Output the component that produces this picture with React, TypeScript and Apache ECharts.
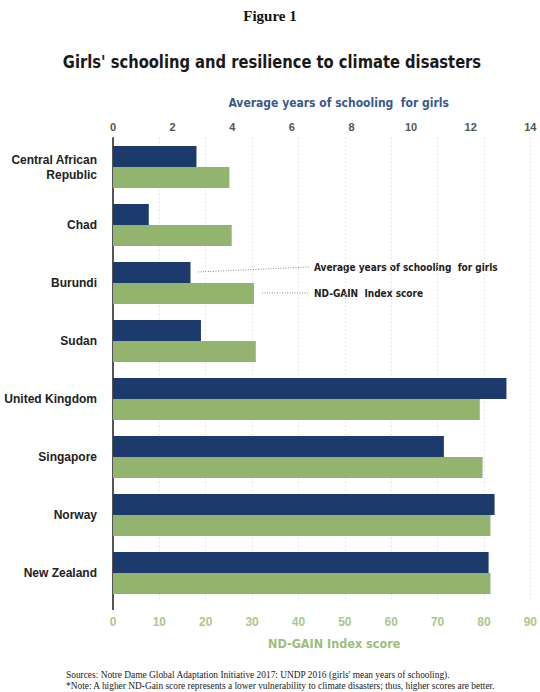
import React, { useEffect, useRef } from "react";
import * as echarts from "echarts";

const categories = [
  "Central African\nRepublic",
  "Chad",
  "Burundi",
  "Sudan",
  "United Kingdom",
  "Singapore",
  "Norway",
  "New Zealand",
];
const schoolingYears = [2.8, 1.2, 2.6, 2.95, 13.2, 11.1, 12.8, 12.6];
const ndGainScore = [25.1, 25.6, 30.4, 30.8, 79.1, 79.7, 81.4, 81.4];
const yearsTicks = { min: 0, max: 14, interval: 2 };
const scoreTicks = { min: 0, max: 90, interval: 10 };

const NARROW = "'Liberation Sans Narrow', 'DejaVu Sans Condensed', 'Liberation Sans', sans-serif";
const SANS = "'Liberation Sans', Arial, sans-serif";
const SERIF = "'Liberation Serif', 'Times New Roman', serif";
const NAVY = "#1c3a6b";
const GREEN = "#92b46f";

export default function App() {
  const ref = useRef<HTMLDivElement>(null);
  useEffect(() => {
    if (!ref.current) return;
    const chart = echarts.init(ref.current, undefined, { renderer: "svg" });
    chart.setOption({
      animation: false,
      backgroundColor: "#ffffff",
      grid: { left: 113, right: 6, top: 138, bottom: 90 },
      xAxis: [
        {
          type: "value",
          position: "top",
          min: yearsTicks.min,
          max: yearsTicks.max,
          interval: yearsTicks.interval,
          name: "Average years of schooling  for girls",
          nameLocation: "middle",
          nameGap: 29,
          nameTextStyle: {
            color: "#3b5a8c",
            fontWeight: "bold",
            fontSize: 12,
            fontFamily: NARROW,
            padding: [0, 0, 0, 34],
          },
          axisLine: { show: false },
          axisTick: { show: false },
          splitLine: { show: false },
          axisLabel: { color: "#555555", fontWeight: "bold", fontSize: 11, fontFamily: SANS, margin: 6 },
        },
        {
          type: "value",
          position: "bottom",
          min: scoreTicks.min,
          max: scoreTicks.max,
          interval: scoreTicks.interval,
          name: "ND-GAIN Index score",
          nameLocation: "middle",
          nameGap: 35,
          nameTextStyle: {
            color: "#9cbe7c",
            fontWeight: "bold",
            fontSize: 12.5,
            fontFamily: NARROW,
            padding: [0, 0, 0, 25],
          },
          axisLine: { show: false },
          axisTick: { show: false },
          splitLine: { show: true, lineStyle: { color: "#d6d6d6", type: [1, 3], width: 1 } },
          axisLabel: { color: "#aac88e", fontWeight: "bold", fontSize: 12, fontFamily: SANS, margin: 14 },
        },
      ],
      yAxis: {
        type: "category",
        inverse: true,
        data: categories,
        axisLine: { show: true, lineStyle: { color: "#555555", width: 2 } },
        axisTick: { show: false },
        axisLabel: { color: "#222222", fontWeight: "bold", fontSize: 12, fontFamily: SANS, margin: 16, lineHeight: 15 },
      },
      series: [
        {
          name: "Average years of schooling for girls",
          type: "bar",
          xAxisIndex: 0,
          data: schoolingYears,
          barWidth: 21,
          barGap: "0%",
          itemStyle: { color: NAVY },
        },
        {
          name: "ND-GAIN Index score",
          type: "bar",
          xAxisIndex: 1,
          data: ndGainScore,
          barWidth: 21,
          barGap: "0%",
          itemStyle: { color: GREEN },
        },
      ],
      graphic: [
        {
          type: "text",
          left: "center",
          top: 8,
          style: { text: "Figure 1", font: `bold 15px ${SERIF}`, fill: "#111" },
        },
        {
          type: "text",
          x: 272,
          y: 62,
          scaleX: 0.91,
          style: {
            text: "Girls' schooling and resilience to climate disasters",
            font: `bold 18px ${NARROW}`,
            fill: "#1a1a1a",
            align: "center",
            verticalAlign: "middle",
          },
        },
        {
          type: "line",
          shape: { x1: 113, y1: 600, x2: 113, y2: 610 },
          style: { stroke: "#555555", lineWidth: 2 },
        },
        {
          type: "line",
          shape: { x1: 198, y1: 272, x2: 309, y2: 267 },
          style: { stroke: "#8a8a8a", lineWidth: 1, lineDash: [1, 1.5] },
        },
        {
          type: "text",
          x: 314,
          y: 267,
          style: {
            text: "Average years of schooling  for girls",
            font: `bold 10px ${NARROW}`,
            fill: "#222",
            verticalAlign: "middle",
          },
        },
        {
          type: "line",
          shape: { x1: 262, y1: 293, x2: 308, y2: 293 },
          style: { stroke: "#8a8a8a", lineWidth: 1, lineDash: [1, 1.5] },
        },
        {
          type: "text",
          x: 314,
          y: 293.5,
          style: {
            text: "ND-GAIN  Index score",
            font: `bold 10px ${NARROW}`,
            fill: "#222",
            verticalAlign: "middle",
          },
        },
        {
          type: "text",
          x: 66,
          y: 675,
          style: {
            text: "Sources: Notre Dame Global Adaptation Initiative 2017: UNDP 2016 (girls' mean years of schooling).",
            font: `9.4px ${SERIF}`,
            fill: "#222",
            verticalAlign: "middle",
          },
        },
        {
          type: "text",
          x: 66,
          y: 686,
          style: {
            text: "*Note: A higher ND-Gain score represents a lower vulnerability to climate disasters; thus, higher scores are better.",
            font: `9.4px ${SERIF}`,
            fill: "#222",
            verticalAlign: "middle",
          },
        },
      ],
    });
    return () => chart.dispose();
  }, []);
  return (
    <div
      ref={ref}
      style={{ position: "fixed", left: 0, top: 0, width: 540, height: 692, background: "#fff" }}
    />
  );
}
